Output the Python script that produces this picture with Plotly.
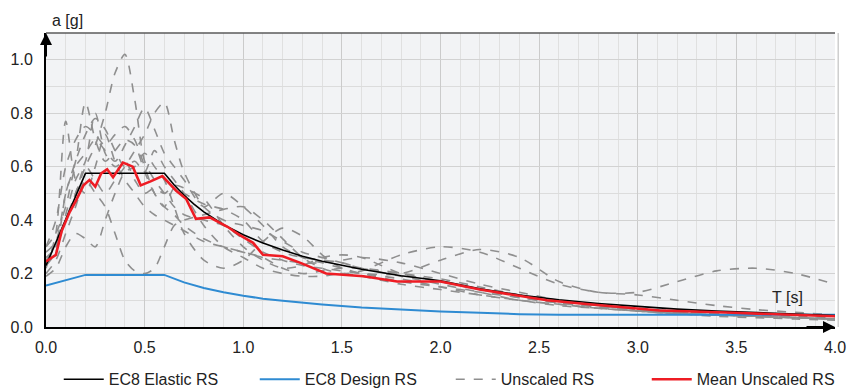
import plotly.graph_objects as go

# ---------------- data ----------------
T_grid = [0, .05, .1, .15, .2, .25, .3, .35, .4, .45, .5, .55, .6, .65, .7, .8, .9, 1.0,
          1.1, 1.2, 1.3, 1.4, 1.5, 1.6, 1.8, 2.0, 2.2, 2.4, 2.6, 2.8, 3.0, 3.2, 3.4, 3.6, 3.8, 4.0]

rec1 = [0.25, 0.30, 0.40, 0.50, 0.60, 0.68, 0.80, 0.95, 1.02, 0.85, 0.62, 0.55, 0.50, 0.45, 0.42, 0.40, 0.38, 0.33,
        0.28, 0.25, 0.23, 0.22, 0.21, 0.20, 0.18, 0.15, 0.12, 0.10, 0.08, 0.07, 0.06, 0.05, 0.045, 0.04, 0.035, 0.03]
rec2 = [0.28, 0.32, 0.50, 0.62, 0.84, 0.70, 0.62, 0.66, 0.70, 0.68, 0.58, 0.50, 0.45, 0.52, 0.50, 0.46, 0.44, 0.40,
        0.32, 0.28, 0.26, 0.25, 0.24, 0.22, 0.19, 0.16, 0.13, 0.10, 0.085, 0.07, 0.06, 0.05, 0.045, 0.04, 0.035, 0.03]
rec3 = [0.22, 0.35, 0.77, 0.55, 0.50, 0.60, 0.72, 0.62, 0.55, 0.50, 0.45, 0.42, 0.40, 0.38, 0.36, 0.32, 0.30, 0.28,
        0.26, 0.22, 0.20, 0.21, 0.22, 0.22, 0.20, 0.17, 0.14, 0.11, 0.09, 0.075, 0.06, 0.05, 0.045, 0.04, 0.035, 0.03]
rec4 = [0.24, 0.30, 0.40, 0.50, 0.60, 0.55, 0.50, 0.55, 0.60, 0.66, 0.72, 0.80, 0.84, 0.70, 0.58, 0.45, 0.40, 0.38,
        0.36, 0.32, 0.28, 0.26, 0.24, 0.22, 0.20, 0.18, 0.15, 0.12, 0.10, 0.08, 0.065, 0.055, 0.05, 0.045, 0.04, 0.035]
rec5 = [0.30, 0.35, 0.45, 0.60, 0.65, 0.70, 0.66, 0.62, 0.68, 0.75, 0.82, 0.74, 0.65, 0.60, 0.55, 0.45, 0.50, 0.45,
        0.38, 0.30, 0.26, 0.24, 0.22, 0.20, 0.17, 0.15, 0.13, 0.11, 0.09, 0.075, 0.06, 0.05, 0.045, 0.04, 0.035, 0.03]
rec6 = [0.20, 0.25, 0.35, 0.45, 0.55, 0.50, 0.45, 0.35, 0.25, 0.21, 0.20, 0.22, 0.30, 0.38, 0.40, 0.42, 0.44, 0.45,
        0.40, 0.33, 0.26, 0.22, 0.20, 0.21, 0.27, 0.30, 0.28, 0.22, 0.16, 0.13, 0.12, 0.10, 0.08, 0.065, 0.055, 0.045]
rec7 = [0.19, 0.22, 0.30, 0.35, 0.33, 0.30, 0.40, 0.50, 0.58, 0.60, 0.65, 0.60, 0.55, 0.45, 0.35, 0.25, 0.22, 0.25,
        0.32, 0.37, 0.34, 0.27, 0.22, 0.20, 0.20, 0.25, 0.29, 0.26, 0.17, 0.13, 0.13, 0.17, 0.21, 0.22, 0.20, 0.16]
rec8 = [0.30, 0.40, 0.60, 0.70, 0.75, 0.72, 0.68, 0.72, 0.75, 0.70, 0.60, 0.50, 0.45, 0.42, 0.38, 0.33, 0.30, 0.28,
        0.26, 0.25, 0.24, 0.24, 0.25, 0.26, 0.24, 0.20, 0.16, 0.13, 0.10, 0.08, 0.065, 0.055, 0.045, 0.04, 0.035, 0.03]
rec9 = [0.26, 0.30, 0.50, 0.62, 0.72, 0.78, 0.74, 0.66, 0.60, 0.62, 0.58, 0.66, 0.60, 0.55, 0.50, 0.38, 0.30, 0.26,
        0.22, 0.20, 0.19, 0.19, 0.20, 0.19, 0.16, 0.14, 0.12, 0.10, 0.085, 0.07, 0.06, 0.05, 0.04, 0.035, 0.03, 0.025]
rec10 = [0.23, 0.28, 0.42, 0.55, 0.62, 0.80, 0.65, 0.60, 0.62, 0.55, 0.50, 0.52, 0.50, 0.53, 0.52, 0.48, 0.38, 0.30,
         0.25, 0.22, 0.23, 0.26, 0.27, 0.26, 0.20, 0.17, 0.14, 0.12, 0.10, 0.085, 0.07, 0.06, 0.05, 0.04, 0.035, 0.03]
records = [rec1, rec2, rec3, rec4, rec5, rec6, rec7, rec8, rec9, rec10]

T_el = [0, 0.2, 0.6, 0.65, 0.7, 0.75, 0.8, 0.9, 1.0, 1.1, 1.2, 1.3, 1.4, 1.5, 1.6, 1.8, 2.0,
        2.2, 2.4, 2.6, 2.8, 3.0, 3.2, 3.4, 3.6, 3.8, 4.0]
Se_el = [0.23, 0.575, 0.575, 0.531, 0.493, 0.460, 0.431, 0.383, 0.345, 0.314, 0.288, 0.265, 0.246, 0.230, 0.216,
         0.192, 0.173, 0.143, 0.120, 0.102, 0.088, 0.077, 0.067, 0.060, 0.053, 0.048, 0.043]

T_des = [0, 0.2, 0.6, 0.7, 0.8, 0.9, 1.0, 1.1, 1.2, 1.4, 1.6, 1.8, 2.0, 2.2, 2.4, 2.6, 4.0]
Sd_des = [0.155, 0.195, 0.195, 0.167, 0.146, 0.130, 0.117, 0.106, 0.098, 0.084, 0.073, 0.065, 0.058, 0.053, 0.048,
          0.046, 0.046]

T_mean = [0, 0.05, 0.08, 0.12, 0.15, 0.19, 0.22, 0.25, 0.28, 0.31, 0.34, 0.39, 0.44, 0.48, 0.53, 0.59, 0.66, 0.71,
          0.76, 0.83, 0.92, 0.98, 1.05, 1.1, 1.2, 1.29, 1.42, 1.61, 1.78, 2.0, 2.2, 2.54, 2.71, 3.11, 3.45, 4.0]
Sa_mean = [0.245, 0.27, 0.36, 0.43, 0.47, 0.53, 0.55, 0.525, 0.575, 0.59, 0.56, 0.615, 0.60, 0.53, 0.545, 0.565,
           0.51, 0.48, 0.405, 0.41, 0.375, 0.345, 0.315, 0.27, 0.265, 0.24, 0.20, 0.19, 0.17, 0.17, 0.14, 0.10,
           0.088, 0.062, 0.054, 0.04]

x_ticks = [0, 0.5, 1.0, 1.5, 2.0, 2.5, 3.0, 3.5, 4.0]
y_ticks = [0, 0.2, 0.4, 0.6, 0.8, 1.0]

# ---------------- figure ----------------
fig = go.Figure()
GRAY = "#8f8f8f"
for r in records:
    fig.add_trace(go.Scatter(x=T_grid, y=r, mode="lines",
                             line=dict(color=GRAY, width=1.6, dash="dash", shape="spline", smoothing=0.8),
                             name="Unscaled RS", showlegend=False, hoverinfo="skip"))
fig.add_trace(go.Scatter(x=T_des, y=Sd_des, mode="lines", line=dict(color="#2f8bd2", width=2),
                         name="EC8 Design RS", showlegend=False))
fig.add_trace(go.Scatter(x=T_el, y=Se_el, mode="lines", line=dict(color="#000000", width=1.6),
                         name="EC8 Elastic RS", showlegend=False))
fig.add_trace(go.Scatter(x=T_mean, y=Sa_mean, mode="lines", line=dict(color="#ee1c24", width=2.6),
                         name="Mean Unscaled RS", showlegend=False))

# legend entries (ordered)
for nm, col, dash, w in [("EC8 Elastic RS", "#000000", "solid", 1.6), ("EC8 Design RS", "#2f8bd2", "solid", 2),
                         ("Unscaled RS", GRAY, "dash", 1.6), ("Mean Unscaled RS", "#ee1c24", "solid", 2.6)]:
    fig.add_trace(go.Scatter(x=[None], y=[None], mode="lines", line=dict(color=col, width=w, dash=dash), name=nm))

fig.update_layout(
    width=848, height=392,
    margin=dict(l=46, r=13, t=33, b=64.5, autoexpand=False),
    paper_bgcolor="white", plot_bgcolor="#f2f3f5",
    font=dict(family="Liberation Sans, Arial, sans-serif", size=16, color="#222222"),
    legend=dict(orientation="h", x=0.513, xanchor="center", y=-0.178, yanchor="middle",
                font=dict(size=16), traceorder="normal", itemwidth=40,
                entrywidth=141, entrywidthmode="pixels"),
    xaxis=dict(range=[0, 4.0], tickvals=x_ticks, ticktext=[f"{v:.1f}" for v in x_ticks],
               showgrid=True, gridcolor="#cbcbcb", gridwidth=1,
               minor=dict(dtick=0.1, showgrid=True, gridcolor="#e0e0e0", gridwidth=1),
               showline=True, linecolor="#000000", linewidth=2, ticks="", zeroline=False,
               ticklabelstandoff=5),
    yaxis=dict(range=[0, 1.1], tickvals=y_ticks, ticktext=[f"{v:.1f}" for v in y_ticks],
               showgrid=True, gridcolor="#d2d2d2", gridwidth=1,
               minor=dict(dtick=0.1, showgrid=True, gridcolor="#dcdcdc", gridwidth=1),
               showline=True, linecolor="#000000", linewidth=2, ticks="", zeroline=False,
               ticklabelstandoff=8),
)

# top and right border
fig.add_shape(type="line", xref="paper", yref="paper", x0=0, x1=1, y0=1, y1=1, line=dict(color="#5a5a5a", width=1.5))
fig.add_shape(type="line", xref="paper", yref="paper", x0=1.004, x1=1.004, y0=0, y1=1, line=dict(color="#b5b5b5", width=1))

# axis arrows
fig.add_annotation(x=0, y=1.1, xref="x", yref="y", ax=0, ay=25, showarrow=True, arrowhead=2, arrowsize=1.2,
                   arrowwidth=2, arrowcolor="#000000", text="")
fig.add_annotation(x=4.0, y=0, xref="x", yref="y", ax=-30, ay=0, showarrow=True, arrowhead=2, arrowsize=1.2,
                   arrowwidth=2, arrowcolor="#000000", text="")

# axis titles
fig.add_annotation(x=0.005, y=1.0, xref="paper", yref="paper", yanchor="middle", xanchor="left", yshift=13,
                   text="a [g]", showarrow=False, font=dict(size=16, color="#222222"))
fig.add_annotation(x=3.85, y=0.11, xref="x", yref="y", xanchor="right", yanchor="middle",
                   text="T [s]", showarrow=False, font=dict(size=16, color="#222222"))

fig.write_html("out.html")
